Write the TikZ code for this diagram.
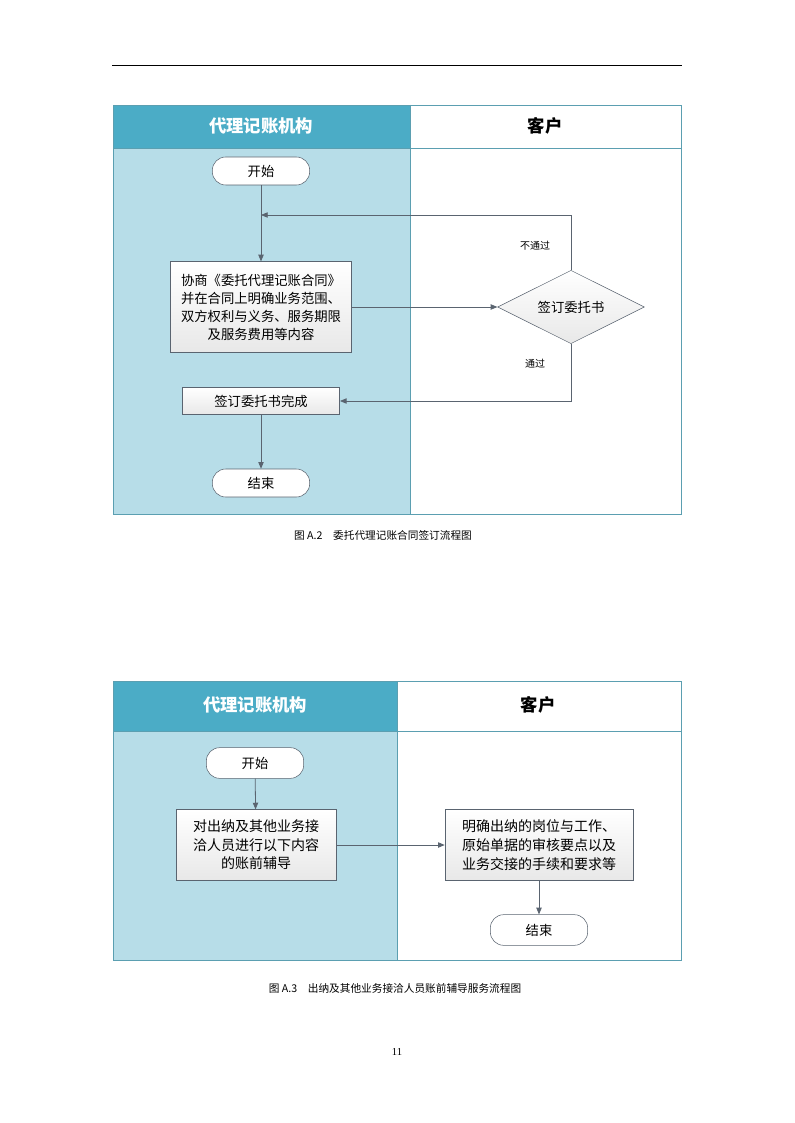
\documentclass[tikz,border=0pt]{standalone}
\usepackage{fontspec}
\setmainfont{Liberation Serif}
\newfontfamily\cjk{Noto Sans CJK SC}
\usetikzlibrary{shapes.geometric,arrows.meta}
\definecolor{headblue}{HTML}{4BACC6}
\definecolor{laneblue}{HTML}{B7DDE8}
\definecolor{edgegray}{HTML}{5A6470}
\begin{document}
\begin{tikzpicture}[
    x=0.75pt, y=-0.75pt,
    font=\cjk,
    lanebox/.style={draw=headblue!70!gray, line width=0.6pt},
    headtext/.style={font=\cjk\bfseries\fontsize{13}{15}\selectfont},
    termnode/.style={draw=edgegray, fill=white, rounded corners=10pt, minimum width=73pt, minimum height=21pt, font=\cjk\fontsize{10}{12}\selectfont},
    procbox/.style={draw=edgegray, top color=white, bottom color=gray!18, align=center, inner sep=2pt, font=\cjk\fontsize{10}{13.5}\selectfont},
    decision/.style={diamond, aspect=2, draw=edgegray, top color=white, bottom color=gray!18, minimum width=110pt, minimum height=55pt, inner sep=0pt, font=\cjk\fontsize{10}{12}\selectfont},
    flow/.style={draw=edgegray, line width=0.6pt, -{Triangle[length=5pt,width=4pt]}},
    smalltext/.style={font=\cjk\fontsize{7.5}{9}\selectfont}
  ]
\useasboundingbox (0,0) rectangle (794,1123);

% Page rule
\draw[line width=0.5pt] (112,65) -- (682,65);

% First diagram: lanes
\fill[laneblue] (113,148) rectangle (410,514);
\fill[headblue] (113,105) rectangle (410,148);
\draw[lanebox] (113,105) rectangle (681,514);
\draw[lanebox] (410,105) -- (410,514);
\draw[lanebox] (113,148) -- (681,148);
\node[headtext, text=white] (ha) at (261,126) {代理记账机构};
\node[headtext] (hb) at (545,126) {客户};

% First diagram: nodes
\node[termnode] (start1) at (261,171) {开始};
\node[procbox, minimum width=136pt, minimum height=68pt] (negot) at (261,307) {协商《委托代理记账合同》\\并在合同上明确业务范围、\\双方权利与义务、服务期限\\及服务费用等内容};
\node[decision] (sign) at (571,307) {签订委托书};
\node[procbox, minimum width=118pt, minimum height=20pt] (signed) at (261,401) {签订委托书完成};
\node[termnode] (end1) at (261,483) {结束};
\coordinate (back) at (261,215);

% First diagram: edges
\draw[flow] (start1) -- (negot);
\draw[flow] (sign.north) |- (back);
\draw[flow] (negot) -- (sign);
\draw[flow] (sign.south) |- (signed);
\draw[flow] (signed) -- (end1);
\node[smalltext] (fail) at (535,246) {不通过};
\node[smalltext] (pass) at (535,364) {通过};

\node[font=\cjk\fontsize{8}{10}\selectfont] (cap1) at (383,535) {图\ A.2\quad 委托代理记账合同签订流程图};

% Second diagram: lanes
\fill[laneblue] (113,731) rectangle (397,960);
\fill[headblue] (113,681) rectangle (397,731);
\draw[lanebox] (113,681) rectangle (681,960);
\draw[lanebox] (397,681) -- (397,960);
\draw[lanebox] (113,731) -- (681,731);
\node[headtext, text=white] (hc) at (255,705) {代理记账机构};
\node[headtext] (hd) at (538,705) {客户};

% Second diagram: nodes
\node[termnode, minimum height=23pt] (start2) at (255,763) {开始};
\node[procbox, minimum width=120pt, minimum height=53pt, font=\cjk\fontsize{10.5}{14}\selectfont] (coach) at (256,845) {对出纳及其他业务接\\洽人员进行以下内容\\的账前辅导};
\node[procbox, minimum width=141pt, minimum height=53pt, font=\cjk\fontsize{10.5}{14}\selectfont] (clarify) at (539,845) {明确出纳的岗位与工作、\\原始单据的审核要点以及\\业务交接的手续和要求等};
\node[termnode, minimum height=23pt] (end2) at (539,930) {结束};

% Second diagram: edges
\draw[flow] (start2) -- (coach);
\draw[flow] (coach) -- (clarify);
\draw[flow] (clarify) -- (end2);

\node[font=\cjk\fontsize{8}{10}\selectfont] (cap2) at (395,988) {图\ A.3\quad 出纳及其他业务接洽人员账前辅导服务流程图};

\node[font=\fontsize{8}{10}\selectfont] (page) at (397,1052) {11};
\end{tikzpicture}
\end{document}
